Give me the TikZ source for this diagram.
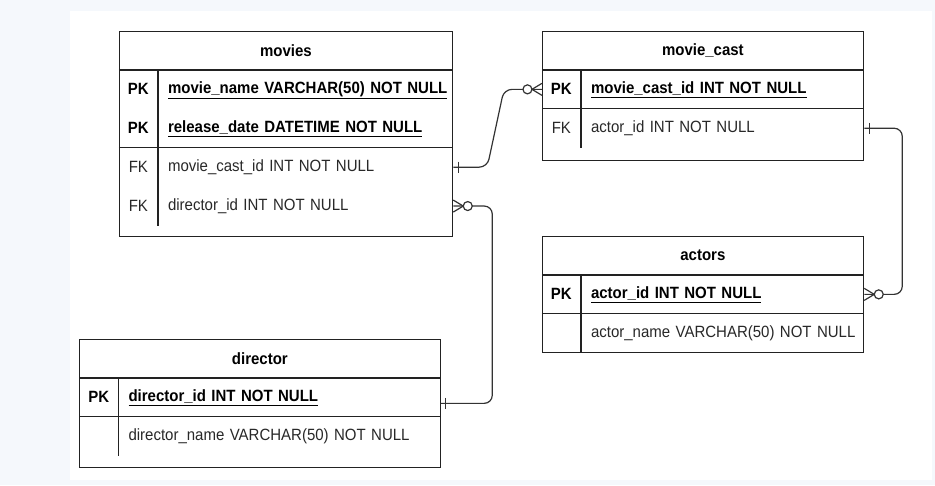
\documentclass[tikz,border=0pt]{standalone}
\usepackage{fontspec}
\setmainfont{Liberation Sans}[FakeStretch=0.92]
\usepackage{tikz}
\usetikzlibrary{positioning,calc}
\definecolor{pagebg}{RGB}{245,248,252}
\definecolor{tblline}{RGB}{34,34,34}
\definecolor{relline}{RGB}{51,51,51}
\definecolor{plaintext}{RGB}{40,40,40}
\tikzset{
  tbl/.style={rectangle,draw=tblline,line width=1.3pt,inner sep=0pt,anchor=north west},
  tblhead/.style={rectangle,inner sep=0pt,minimum height=38.5pt,font=\fontsize{16.3pt}{19pt}\selectfont\bfseries},
  keycell/.style={rectangle,inner sep=0pt,minimum width=38.5pt,minimum height=38.5pt,font=\fontsize{16.3pt}{19pt}\selectfont\bfseries},
  fkcell/.style={keycell,font=\fontsize{16.3pt}{19pt}\selectfont,text=plaintext},
  pkfield/.style={rectangle,inner sep=0pt,text width=#1,align=left,text height=12pt,text depth=3pt,font=\fontsize{16.3pt}{19pt}\selectfont\bfseries},
  field/.style={pkfield=#1,font=\fontsize{16.3pt}{19pt}\selectfont,text=plaintext},
  tblrule/.style={draw=tblline,line width=1.3pt},
  rel/.style={draw=relline,line width=1.2pt},
  onemark/.pic={\draw[rel] (5,-5.5) -- (5,5.5);},
  manyzero/.pic={\draw[rel] (0,-6) -- (10,0) -- (0,6); \draw[rel,fill=white] (14.5,0) circle[radius=4.5pt];}
}
\begin{document}
\begin{tikzpicture}[x=1pt,y=-1pt]
  \useasboundingbox (0,0) rectangle (935,485);
  \fill[pagebg] (0,0) rectangle (935,485);
  \fill[white] (70,11) rectangle (932,480);

  % movies
  \node[tbl,minimum width=333.5pt,minimum height=205pt] (movies) at (118.5,31) {};
  \node[tblhead,minimum width=333.5pt,below=0pt of movies.north] (movies-h) {movies};
  \node[keycell,below=0pt of movies-h.south west,anchor=north west] (movies-k1) {PK};
  \node[keycell,below=0pt of movies-k1] (movies-k2) {PK};
  \node[fkcell,below=0pt of movies-k2] (movies-k3) {FK};
  \node[fkcell,below=0pt of movies-k3] (movies-k4) {FK};
  \node[pkfield=285pt,right=10pt of movies-k1] (movies-f1) {\underline{movie\_name VARCHAR(50) NOT NULL}};
  \node[pkfield=285pt,right=10pt of movies-k2] (movies-f2) {\underline{release\_date DATETIME NOT NULL}};
  \node[field=285pt,right=10pt of movies-k3] (movies-f3) {movie\_cast\_id INT NOT NULL};
  \node[field=285pt,right=10pt of movies-k4] (movies-f4) {director\_id INT NOT NULL};
  \draw[tblrule] (movies-h.south west) -- (movies-h.south east);
  \draw[tblrule] (movies-k2.south west) -- (movies-k2.south west -| movies.east);
  \draw[tblrule] (movies-k1.north east) -- (movies-k4.south east);

  % movie_cast
  \node[tbl,minimum width=321.5pt,minimum height=129pt] (moviecast) at (541.5,31) {};
  \node[tblhead,minimum width=321.5pt,below=0pt of moviecast.north] (moviecast-h) {movie\_cast};
  \node[keycell,below=0pt of moviecast-h.south west,anchor=north west] (moviecast-k1) {PK};
  \node[fkcell,below=0pt of moviecast-k1] (moviecast-k2) {FK};
  \node[pkfield=273pt,right=10pt of moviecast-k1] (moviecast-f1) {\underline{movie\_cast\_id INT NOT NULL}};
  \node[field=273pt,right=10pt of moviecast-k2] (moviecast-f2) {actor\_id INT NOT NULL};
  \draw[tblrule] (moviecast-h.south west) -- (moviecast-h.south east);
  \draw[tblrule] (moviecast-k1.south west) -- (moviecast-k1.south west -| moviecast.east);
  \draw[tblrule] (moviecast-k1.north east) -- (moviecast-k2.south east);

  % actors
  \node[tbl,minimum width=321.5pt,minimum height=116pt] (actors) at (541.5,236) {};
  \node[tblhead,minimum width=321.5pt,below=0pt of actors.north] (actors-h) {actors};
  \node[keycell,below=0pt of actors-h.south west,anchor=north west] (actors-k1) {PK};
  \node[fkcell,below=0pt of actors-k1] (actors-k2) {};
  \node[pkfield=273pt,right=10pt of actors-k1] (actors-f1) {\underline{actor\_id INT NOT NULL}};
  \node[field=273pt,right=10pt of actors-k2] (actors-f2) {actor\_name VARCHAR(50) NOT NULL};
  \draw[tblrule] (actors-h.south west) -- (actors-h.south east);
  \draw[tblrule] (actors-k1.south west) -- (actors-k1.south west -| actors.east);
  \draw[tblrule] (actors-k1.north east) -- (actors.south west -| actors-k1.east);

  % director
  \node[tbl,minimum width=360.5pt,minimum height=128pt] (director) at (79,339) {};
  \node[tblhead,minimum width=360.5pt,below=0pt of director.north] (director-h) {director};
  \node[keycell,below=0pt of director-h.south west,anchor=north west] (director-k1) {PK};
  \node[fkcell,below=0pt of director-k1] (director-k2) {};
  \node[pkfield=312pt,right=10pt of director-k1] (director-f1) {\underline{director\_id INT NOT NULL}};
  \node[field=312pt,right=10pt of director-k2] (director-f2) {director\_name VARCHAR(50) NOT NULL};
  \draw[tblrule] (director-h.south west) -- (director-h.south east);
  \draw[tblrule] (director-k1.south west) -- (director-k1.south west -| director.east);
  \draw[tblrule] (director-k1.north east) -- (director-k2.south east);

  % relations
  \draw[rel,rounded corners=8pt] (movies-f3.east) -- ++(34,0) -- ([xshift=-38pt]moviecast-k1.west) -- (moviecast-k1.west);
  \draw[rel,rounded corners=8pt] (movies-f4.east) -- ++(39,0) |- ([yshift=-6pt]director-f1.east);
  \draw[rel,rounded corners=8pt] (moviecast-f2.east) -- ++(38,0) |- (actors-f1.east);
  \pic at (movies-f3.east) {onemark};
  \pic[rotate=180] at (moviecast-k1.west) {manyzero};
  \pic at (movies-f4.east) {manyzero};
  \pic at ([yshift=-6pt]director-f1.east) {onemark};
  \pic at (moviecast-f2.east) {onemark};
  \pic at (actors-f1.east) {manyzero};
\end{tikzpicture}
\end{document}
